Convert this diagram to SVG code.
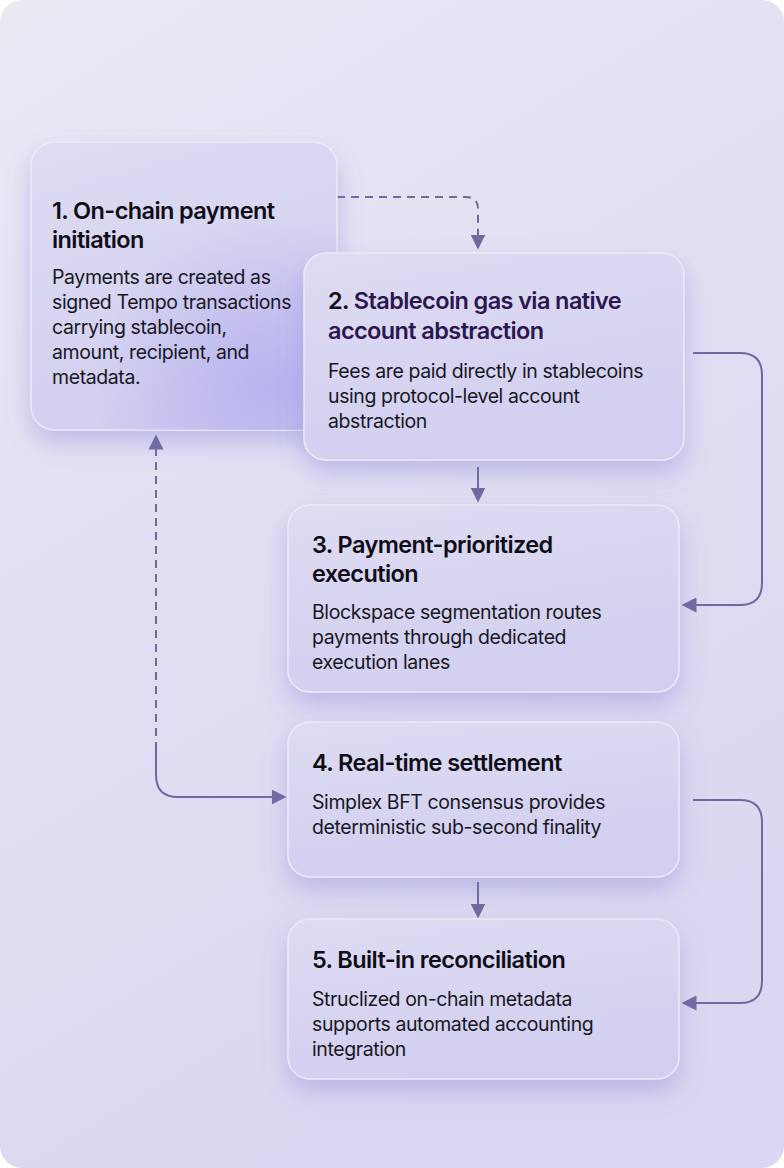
<svg xmlns="http://www.w3.org/2000/svg" width="784" height="1168" viewBox="0 0 784 1168">
  <defs>
    <linearGradient id="bg" x1="0" y1="0" x2="0.4" y2="1">
      <stop offset="0" stop-color="#eae9f4"/>
      <stop offset="0.5" stop-color="#e0dff2"/>
      <stop offset="1" stop-color="#dad8f0"/>
    </linearGradient>
    <linearGradient id="box" x1="0" y1="0" x2="0.3" y2="1">
      <stop offset="0" stop-color="#dedcf2"/>
      <stop offset="1" stop-color="#d2cff0"/>
    </linearGradient>
    <radialGradient id="glow1" cx="0.8" cy="0.85" r="0.6">
      <stop offset="0" stop-color="#b3adee" stop-opacity="0.85"/>
      <stop offset="1" stop-color="#b3adee" stop-opacity="0"/>
    </radialGradient>
    <filter id="sh" x="-20%" y="-20%" width="140%" height="150%">
      <feDropShadow dx="0" dy="12" stdDeviation="12" flood-color="#7d74d6" flood-opacity="0.35"/>
    </filter>
    <marker id="ah" viewBox="0 0 10 10" refX="9" refY="5" markerWidth="15" markerHeight="15" markerUnits="userSpaceOnUse" orient="auto">
      <path d="M0,0 L10,5 L0,10 Z" fill="#6e6a9e"/>
    </marker>
    <style>
      .card { fill: url(#box); stroke: #eceaf8; stroke-width: 1.5; filter: url(#sh); }
      .t { font-family: Inter, "Liberation Sans", sans-serif; font-size: 23.5px; font-weight: 600; fill: #0f0e16; letter-spacing: -0.6px; }
      .t2 { fill: #2c1650; }
      .b { font-family: Inter, "Liberation Sans", sans-serif; font-size: 19.5px; font-weight: 400; fill: #18171f; letter-spacing: -0.4px; }
      .c { fill: none; stroke: #6e6a9e; stroke-width: 2; }
      .d { stroke-dasharray: 8 6; }
    </style>
  </defs>
  <rect width="784" height="1168" fill="#ffffff"/>
  <rect width="784" height="1168" rx="22" fill="url(#bg)"/>

  <g id="connectors">
    <path class="c d" d="M337,197 H466 Q478,197 478,209 V248" marker-end="url(#ah)"/>
    <path class="c" d="M478,467 V501" marker-end="url(#ah)"/>
    <path class="c" d="M693,353 H740 Q762,353 762,375 V583 Q762,605 740,605 H683" marker-end="url(#ah)"/>
    <path class="c d" d="M156,750 V436" marker-end="url(#ah)"/>
    <path class="c" d="M156,750 V775 Q156,797 178,797 H285" marker-end="url(#ah)"/>
    <path class="c" d="M478,882 V917" marker-end="url(#ah)"/>
    <path class="c" d="M693,800 H740 Q762,800 762,822 V981 Q762,1003 740,1003 H683" marker-end="url(#ah)"/>
  </g>

  <g id="node1">
    <rect class="card" x="31" y="142" width="306" height="288" rx="24"/>
    <rect x="31" y="142" width="306" height="288" rx="24" fill="url(#glow1)"/>
    <text class="t" x="52" y="219">1. On-chain payment</text>
    <text class="t" x="52" y="248">initiation</text>
    <text class="b" x="52" y="284">Payments are created as</text>
    <text class="b" x="52" y="309">signed Tempo transactions</text>
    <text class="b" x="52" y="334">carrying stablecoin,</text>
    <text class="b" x="52" y="359">amount, recipient, and</text>
    <text class="b" x="52" y="384">metadata.</text>
  </g>

  <g id="node2">
    <rect class="card" x="304" y="253" width="380" height="207" rx="22"/>
    <text class="t" x="328" y="309">2. <tspan class="t2">Stablecoin gas via native</tspan></text>
    <text class="t t2" x="328" y="339">account abstraction</text>
    <text class="b" x="328" y="378">Fees are paid directly in stablecoins</text>
    <text class="b" x="328" y="403">using protocol-level account</text>
    <text class="b" x="328" y="428">abstraction</text>
  </g>

  <g id="node3">
    <rect class="card" x="288" y="505" width="391" height="187" rx="22"/>
    <text class="t" x="312" y="553">3. Payment-prioritized</text>
    <text class="t" x="312" y="582">execution</text>
    <text class="b" x="312" y="619">Blockspace segmentation routes</text>
    <text class="b" x="312" y="644">payments through dedicated</text>
    <text class="b" x="312" y="669">execution lanes</text>
  </g>

  <g id="node4">
    <rect class="card" x="288" y="722" width="391" height="155" rx="22"/>
    <text class="t" x="312" y="771">4. Real-time settlement</text>
    <text class="b" x="312" y="809">Simplex BFT consensus provides</text>
    <text class="b" x="312" y="834">deterministic sub-second finality</text>
  </g>

  <g id="node5">
    <rect class="card" x="288" y="919" width="391" height="160" rx="22"/>
    <text class="t" x="312" y="968">5. Built-in reconciliation</text>
    <text class="b" x="312" y="1006">Struclized on-chain metadata</text>
    <text class="b" x="312" y="1031">supports automated accounting</text>
    <text class="b" x="312" y="1056">integration</text>
  </g>
</svg>
